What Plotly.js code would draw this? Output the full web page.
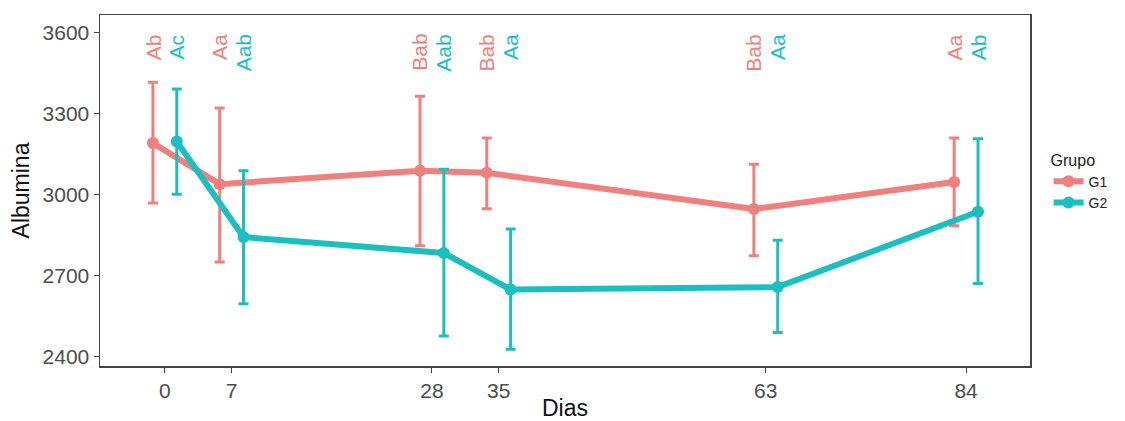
<!DOCTYPE html>
<html>
<head>
<meta charset="utf-8">
<script src="https://cdn.plot.ly/plotly-3.0.1.min.js"></script>
<style>html,body{margin:0;padding:0;background:#fff;}#chart{width:1125px;height:421px;}</style>
</head>
<body>
<div id="chart"></div>
<script>
const days = [0, 7, 28, 35, 63, 84];
const tickLabels = ["0", "7", "28", "35", "63", "84"];

const g1Mean  = [3190, 3038, 3088, 3080, 2946, 3046];
const g1Upper = [3415, 3320, 3363, 3209, 3112, 3209];
const g1Lower = [2968, 2750, 2810, 2947, 2773, 2884];
const g1Labels = ["Ab", "Aa", "Bab", "Bab", "Bab", "Aa"];

const g2Mean  = [3196, 2842, 2783, 2648, 2657, 2936];
const g2Upper = [3390, 3088, 3093, 2872, 2830, 3206];
const g2Lower = [3001, 2595, 2476, 2427, 2489, 2670];
const g2Labels = ["Ac", "Aab", "Aab", "Aa", "Aa", "Ab"];

const labelY = 3600;
const dodge = 1.25;
const colG1 = "#F0807D";
const colG2 = "#1CBEC0";

function mkTrace(name, mean, up, lo, col, off) {
  return {
    type: "scatter", mode: "lines+markers", name: name,
    x: days.map(d => d + off), y: mean,
    line: {color: col, width: 6},
    marker: {color: col, size: 12},
    error_y: {type: "data", symmetric: false,
      array: up.map((u, i) => u - mean[i]),
      arrayminus: lo.map((l, i) => mean[i] - l),
      color: col, thickness: 3, width: 5}
  };
}

const traces = [
  mkTrace("G1", g1Mean, g1Upper, g1Lower, colG1, -dodge),
  mkTrace("G2", g2Mean, g2Upper, g2Lower, colG2, dodge)
];

const annotations = [];
days.forEach((d, i) => {
  annotations.push({x: d - dodge, y: labelY, xref: "x", yref: "y", text: g1Labels[i],
    textangle: -90, showarrow: false, yanchor: "top", xanchor: "center",
    font: {size: 21, color: colG1}});
  annotations.push({x: d + dodge, y: labelY, xref: "x", yref: "y", text: g2Labels[i],
    textangle: -90, showarrow: false, yanchor: "top", xanchor: "center",
    font: {size: 21, color: colG2}});
});

const layout = {
  width: 1125, height: 421,
  margin: {l: 100, r: 87, t: 15, b: 55},
  paper_bgcolor: "#fff", plot_bgcolor: "#fff",
  font: {family: "Liberation Sans, Arial, sans-serif", color: "#000"},
  showlegend: true,
  legend: {x: 1.02, y: 0.63, xanchor: "left", yanchor: "top",
    title: {text: "Grupo", font: {size: 16, color: "#222"}},
    font: {size: 14, color: "#222"}, itemwidth: 30, tracegroupgap: 4},
  xaxis: {range: [-6.8, 90.7], tickvals: days, ticktext: tickLabels,
    showgrid: false, zeroline: false, showline: true, mirror: true,
    linecolor: "#444", linewidth: 1.5, ticks: "outside", ticklen: 5, tickcolor: "#444",
    tickfont: {size: 21, color: "#4D4D4D"},
    title: {text: "Dias", font: {size: 23, color: "#111"}, standoff: 4}},
  yaxis: {range: [2365, 3664], tickvals: [2400, 2700, 3000, 3300, 3600],
    showgrid: false, zeroline: false, showline: true, mirror: true,
    linecolor: "#444", linewidth: 1.5, ticks: "outside", ticklen: 5, tickcolor: "#444",
    tickfont: {size: 21, color: "#4D4D4D"},
    title: {text: "Albumina", font: {size: 23, color: "#111"}, standoff: 6}},
  annotations: annotations
};

Plotly.newPlot("chart", traces, layout, {displayModeBar: false, staticPlot: true});
</script>
</body>
</html>
